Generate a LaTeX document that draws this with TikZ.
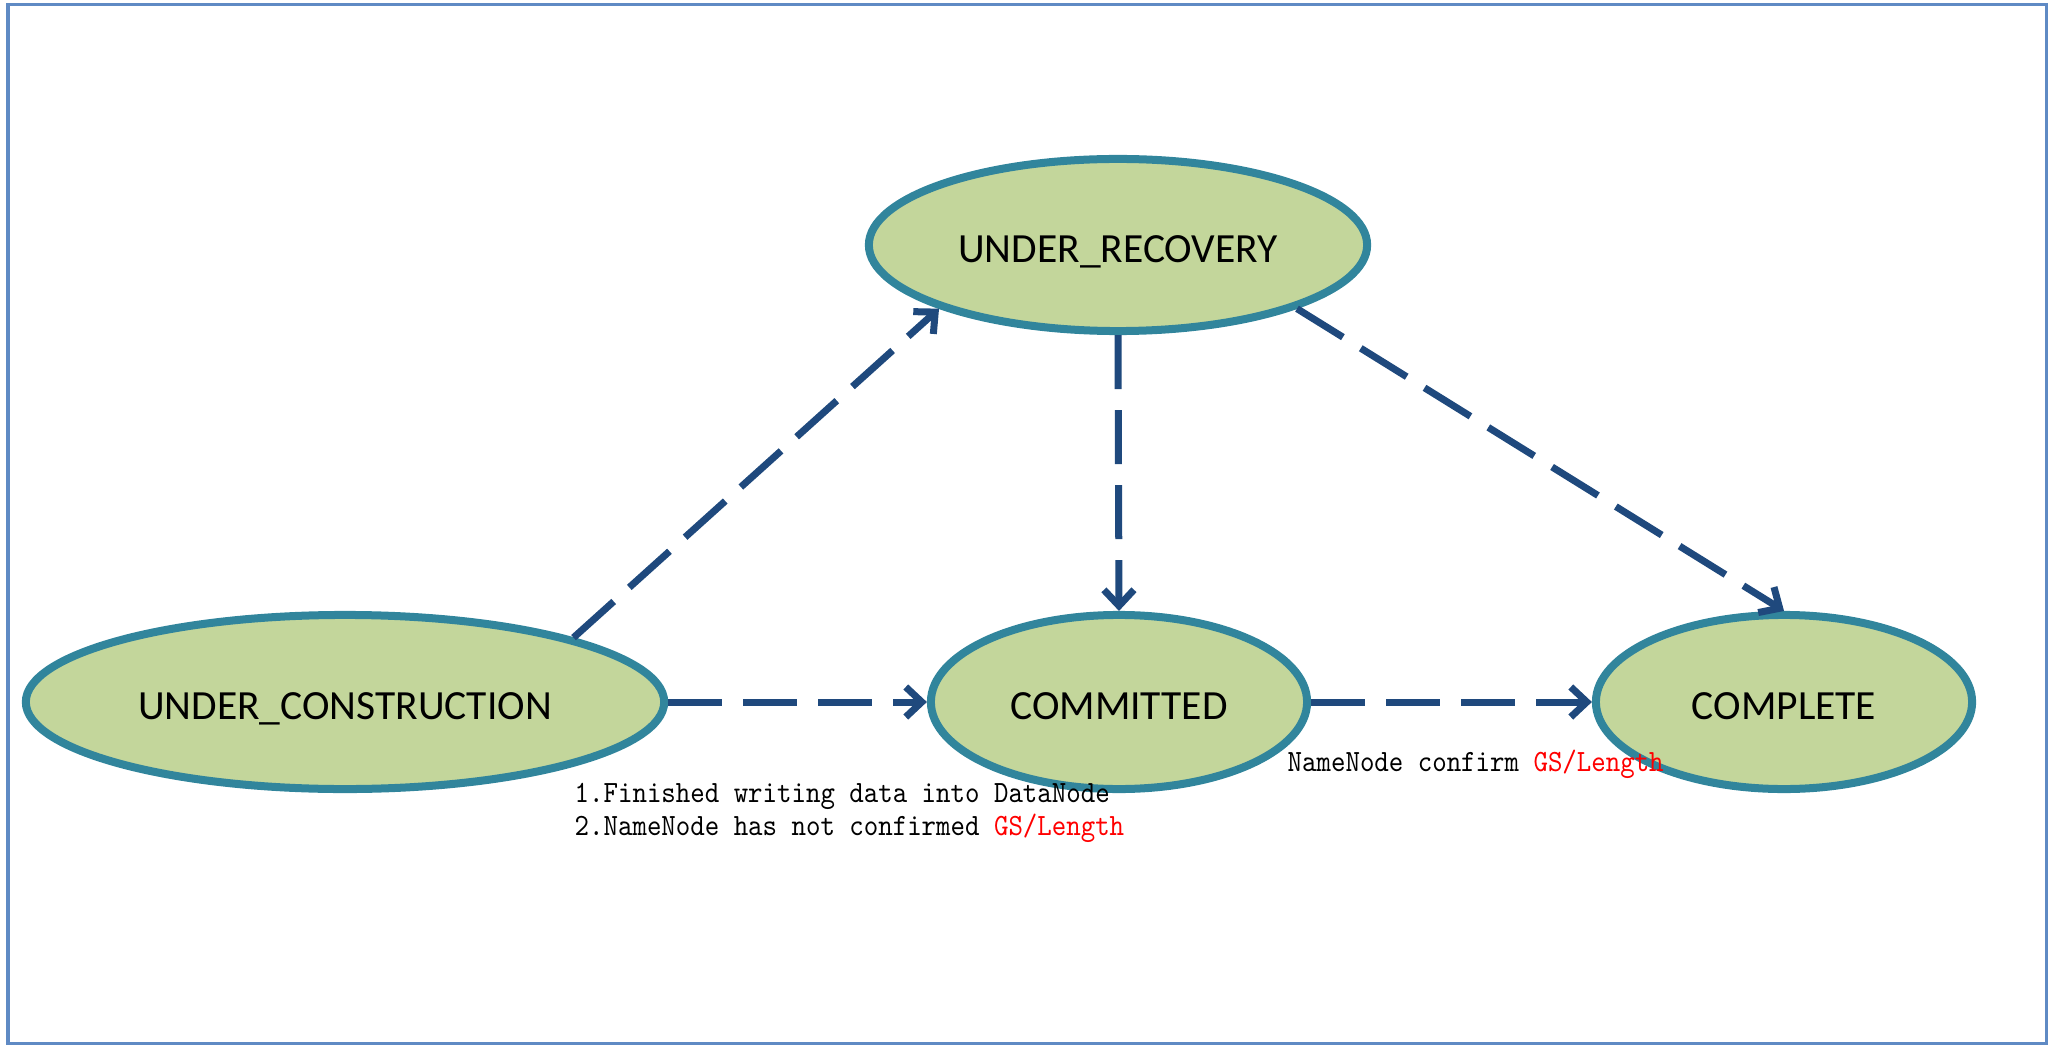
\documentclass[tikz,border=0pt]{standalone}
\usepackage{fontspec}
\setmainfont{Carlito}
\newfontfamily\annofont[FakeStretch=0.89]{lmmono10-regular.otf}
\usepackage{xcolor}
\usepackage{tikz}
\usetikzlibrary{shapes.geometric,arrows.meta}

\definecolor{stateline}{HTML}{31859C}
\definecolor{statefill}{HTML}{C3D69B}
\definecolor{flowblue}{HTML}{1F497D}
\definecolor{framecol}{HTML}{5F8AC4}

\tikzset{
    state/.style={ellipse, draw=stateline, fill=statefill, line width=0.08cm,
        minimum height=1.74cm, inner sep=0pt, text height=0.36cm, text depth=0.01cm,
        font=\fontsize{11.8}{14}\selectfont},
    flow/.style={draw=flowblue, line width=0.07cm, dash pattern=on 0.54cm off 0.21cm,
        -{Straight Barb[length=0.16cm,width=0.3cm]}},
    note/.style={anchor=base west, inner sep=0pt, font=\annofont\fontsize{8.8}{10}\selectfont}
}

\begin{document}
\begin{tikzpicture}[x=0.01cm,y=-0.01cm]
        \useasboundingbox (0,0) rectangle (2055,1055);
        \draw[framecol, line width=0.03cm] (8,5) rectangle (2046,1043);

        \node[state, minimum width=4.98cm, minimum height=1.72cm] (rec) at (1118,245) {UNDER\_RECOVERY};
        \node[state, minimum width=6.38cm] (cons) at (345,702) {UNDER\_CONSTRUCTION};
        \node[state, minimum width=3.76cm] (comm) at (1119,702) {COMMITTED};
        \node[state, minimum width=3.76cm] (comp) at (1784,702) {COMPLETE};

        \draw[flow] (cons.north east) -- (rec.south west);
        \draw[flow] (cons.east) -- (comm.west);
        \draw[flow] (rec.south) -- (comm.north);
        \draw[flow] (rec.south east) -- (comp.north);
        \draw[flow] (comm.east) -- (comp.west); % confirm

        \node[note] (wrote) at (574,802) {1.Finished writing data into DataNode};
        \node[note] (unconf) at (574,835) {2.NameNode has not confirmed \textcolor{red}{GS/Length}};
        \node[note] (conf) at (1287,771) {NameNode confirm \textcolor{red}{GS/Length}};
    \end{tikzpicture}
\end{document}
